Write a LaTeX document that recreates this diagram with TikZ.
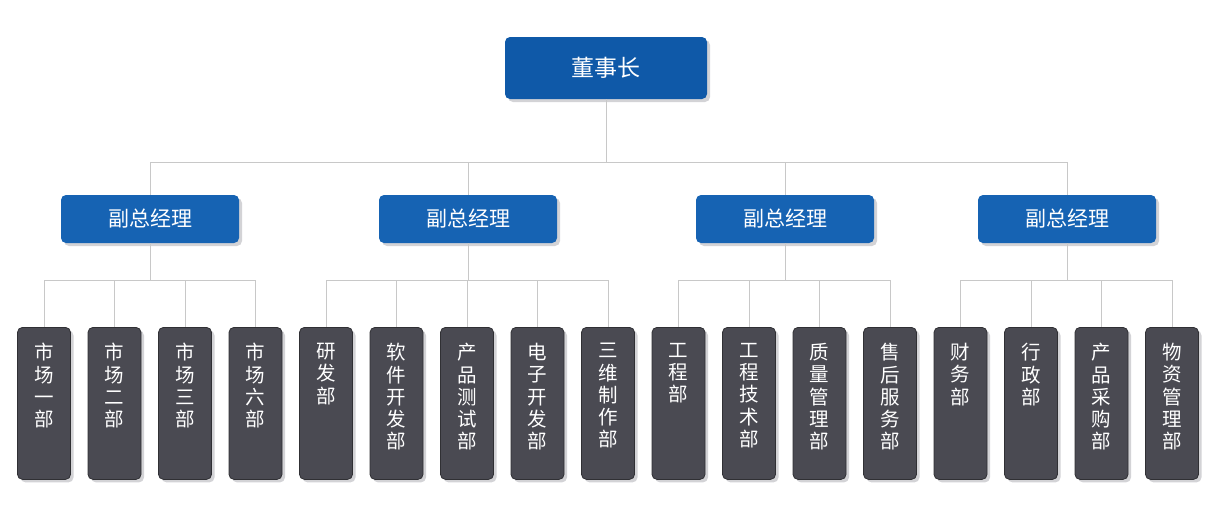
\documentclass[tikz,border=0pt]{standalone}
\usepackage{fontspec}
\setmainfont{Noto Sans CJK SC}
\usetikzlibrary{shadows}
\definecolor{topblue}{HTML}{0F59A8}
\definecolor{vpblue}{HTML}{1663B3}
\definecolor{leaffill}{HTML}{4A4A52}
\definecolor{leafborder}{HTML}{303034}
\definecolor{shadowgray}{HTML}{D3D3D6}
\definecolor{linegray}{HTML}{C8C8C8}
\newcommand\lftxt[1]{\parbox[t][152pt][t]{40pt}{\centering\fontsize{19.5}{22.2}\selectfont\vspace*{16pt}#1\par}}
\begin{document}
\begin{tikzpicture}[x=1pt,y=-1pt,
  sh/.style={drop shadow={shadow xshift=3pt,shadow yshift=-3pt,fill=shadowgray,opacity=1}},
  topbox/.style={sh,fill=topblue,rounded corners=5pt,minimum width=202pt,minimum height=62pt,inner sep=0pt,text=white,font=\fontsize{23}{26}\selectfont},
  vpbox/.style={sh,fill=vpblue,rounded corners=5pt,minimum width=178pt,minimum height=48pt,inner sep=0pt,text=white,font=\fontsize{21}{24}\selectfont},
  leaf/.style={sh,fill=leaffill,draw=leafborder,line width=0.8pt,rounded corners=5pt,minimum width=53pt,minimum height=152pt,inner sep=0pt,text=white,anchor=north},
  conn/.style={draw=linegray,line width=1pt}]
\useasboundingbox (0,0) rectangle (1218,528);
\node[topbox] (top) at (606,68) {董事长};
\node[vpbox] (vp1) at (150,219) {副总经理};
\node[vpbox] (vp2) at (468,219) {副总经理};
\node[vpbox] (vp3) at (785,219) {副总经理};
\node[vpbox] (vp4) at (1067,219) {副总经理};
\foreach \i/\t in {0/{市\\场\\一\\部},1/{市\\场\\二\\部},2/{市\\场\\三\\部},3/{市\\场\\六\\部},
  4/{研\\发\\部},5/{软\\件\\开\\发\\部},6/{产\\品\\测\\试\\部},7/{电\\子\\开\\发\\部},8/{三\\维\\制\\作\\部},
  9/{工\\程\\部},10/{工\\程\\技\\术\\部},11/{质\\量\\管\\理\\部},12/{售\\后\\服\\务\\部},
  13/{财\\务\\部},14/{行\\政\\部},15/{产\\品\\采\\购\\部},16/{物\\资\\管\\理\\部}}
  \node[leaf] (l\i) at ({44+70.5*\i},327) {\lftxt{\t}};
\coordinate (bus) at (606,162);
\draw[conn] (top.south) -- (bus);
\foreach \v in {1,...,4} \draw[conn] (bus) -| (vp\v.north);
\coordinate (b1) at (150,280);
\coordinate (b2) at (468,280);
\coordinate (b3) at (785,280);
\coordinate (b4) at (1067,280);
\foreach \v in {1,...,4} \draw[conn] (vp\v.south) -- (b\v);
\foreach \i in {0,...,3} \draw[conn] (b1) -| (l\i.north);
\foreach \i in {4,...,8} \draw[conn] (b2) -| (l\i.north);
\foreach \i in {9,...,12} \draw[conn] (b3) -| (l\i.north);
\foreach \i in {13,...,16} \draw[conn] (b4) -| (l\i.north);
\end{tikzpicture}
\end{document}
